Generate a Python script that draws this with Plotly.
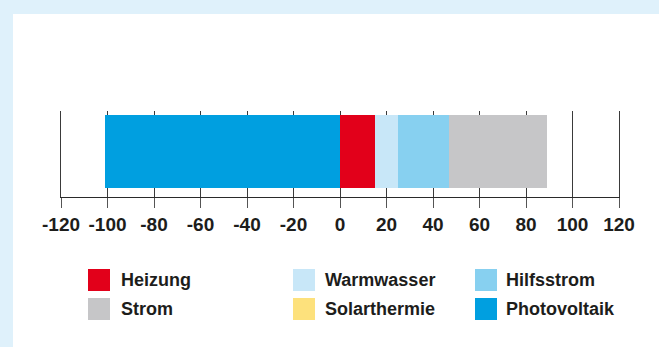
import plotly.graph_objects as go

# Energy balance categories (stack order) and their values
series = ["Heizung", "Warmwasser", "Solarthermie", "Hilfsstrom", "Strom", "Photovoltaik"]
values = [15, 10, 0, 22, 42, -101]
colors = {
    "Heizung": "#e2001a",
    "Warmwasser": "#c8e7f8",
    "Hilfsstrom": "#87d0f0",
    "Strom": "#c6c6c8",
    "Solarthermie": "#fde17c",
    "Photovoltaik": "#009fe0",
}

# Legend layout: two rows of three entries
legend_rows = [
    ["Heizung", "Warmwasser", "Hilfsstrom"],
    ["Strom", "Solarthermie", "Photovoltaik"],
]

tick_values = [-120, -100, -80, -60, -40, -20, 0, 20, 40, 60, 80, 100, 120]
tick_labels = ["-120", "-100", "-80", "-60", "-40", "-20", "0", "20", "40", "60", "80", "100", "120"]

W, H = 659, 347
PL, PR, PT, PB = 61, 619, 111, 197  # plot area in pixels
FONT = "Liberation Sans, Arial, sans-serif"
TEXT = "#1d1d1b"
GRID = "#3a3a3a"


def px_x(p):
    return (p - PL) / (PR - PL)


def px_y(p):
    return (PB - p) / (PB - PT)


fig = go.Figure()
for name, val in zip(series, values):
    fig.add_trace(go.Bar(
        x=[val], y=[0], orientation="h", name=name,
        marker=dict(color=colors[name], line=dict(width=0)),
        width=0.845, showlegend=False, hoverinfo="x+name",
    ))

shapes = [
    # light blue frame on the left and top edge
    dict(type="rect", xref="paper", yref="paper", x0=px_x(0), x1=px_x(13), y0=px_y(H), y1=px_y(0),
         fillcolor="#dff1fb", line=dict(width=0), layer="above"),
    dict(type="rect", xref="paper", yref="paper", x0=px_x(0), x1=px_x(W), y0=px_y(14), y1=px_y(0),
         fillcolor="#dff1fb", line=dict(width=0), layer="above"),
]
annotations = []

col_box_x = [88, 293, 475]
col_text_x = [119, 323, 504]
row_y = [280, 309]
box = 22
for r, row in enumerate(legend_rows):
    for c, name in enumerate(row):
        cy = row_y[r]
        shapes.append(dict(
            type="rect", xref="paper", yref="paper",
            x0=px_x(col_box_x[c]), x1=px_x(col_box_x[c] + box),
            y0=px_y(cy + box / 2), y1=px_y(cy - box / 2),
            fillcolor=colors[name], line=dict(width=0), layer="above",
        ))
        annotations.append(dict(
            text=name, xref="paper", yref="paper",
            x=px_x(col_text_x[c]), y=px_y(cy), xanchor="left", yanchor="middle",
            showarrow=False, font=dict(family=FONT, size=18, color=TEXT, weight="bold"),
        ))

fig.update_layout(
    width=W, height=H,
    margin=dict(l=PL, r=W - PR, t=PT, b=H - PB, pad=0),
    paper_bgcolor="white", plot_bgcolor="white",
    barmode="relative", bargap=0,
    shapes=shapes, annotations=annotations,
    xaxis=dict(
        range=[tick_values[0], tick_values[-1]], tickvals=tick_values, ticktext=tick_labels,
        showgrid=True, gridcolor=GRID, gridwidth=1, zeroline=False,
        showline=True, linecolor="#2a2a2a", linewidth=1,
        ticks="outside", ticklen=10, tickcolor="#555555", tickwidth=1,
        tickfont=dict(family=FONT, size=19, color=TEXT, weight="bold"),
        fixedrange=True,
    ),
    # y axis only supplies the outer vertical lines at -120 and 120
    yaxis=dict(range=[-0.531, 0.469], showline=True, mirror=True, linecolor=GRID, linewidth=1,
               showgrid=False, zeroline=False, showticklabels=False, ticks="",
               fixedrange=True),
)

fig.write_html("out.html")
